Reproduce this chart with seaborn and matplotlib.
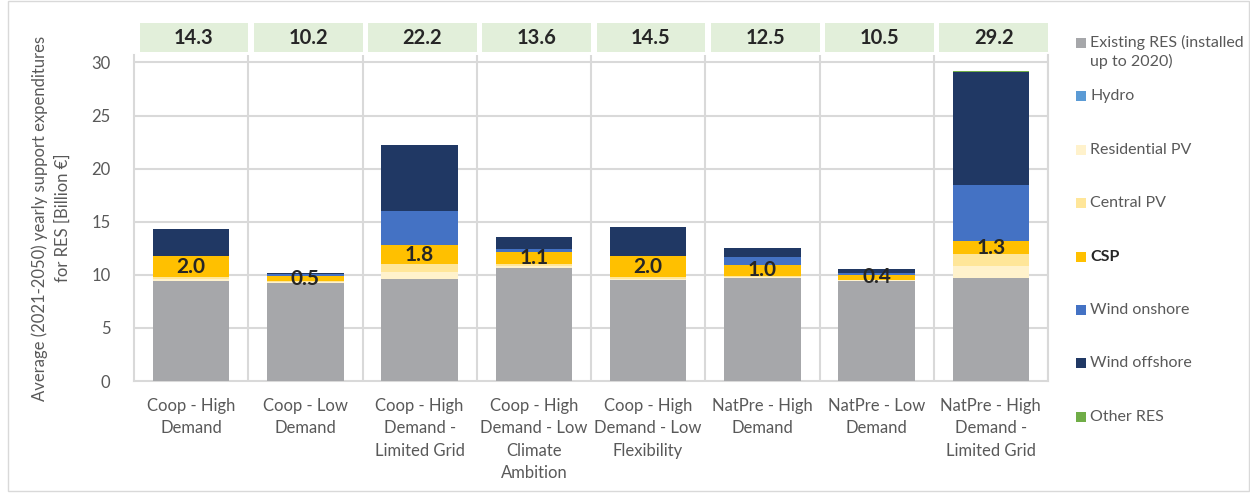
import numpy as np
import pandas as pd
import matplotlib
matplotlib.use("Agg")
import matplotlib.pyplot as plt
import matplotlib.transforms as mtransforms
from matplotlib.patches import Rectangle
import seaborn as sns

scenarios = [
    "Coop - High\nDemand",
    "Coop - Low\nDemand",
    "Coop - High\nDemand -\nLimited Grid",
    "Coop - High\nDemand - Low\nClimate\nAmbition",
    "Coop - High\nDemand - Low\nFlexibility",
    "NatPre - High\nDemand",
    "NatPre - Low\nDemand",
    "NatPre - High\nDemand -\nLimited Grid",
]
existing = [9.45, 9.26, 9.57, 10.6, 9.48, 9.73, 9.4, 9.66]
hydro = [0.0, 0.0, 0.0, 0.0, 0.0, 0.0, 0.0, 0.0]
residential_pv = [0.15, 0.06, 0.72, 0.22, 0.14, 0.1, 0.07, 1.16]
central_pv = [0.15, 0.06, 0.69, 0.22, 0.14, 0.1, 0.08, 1.10]
csp = [2.0, 0.5, 1.8, 1.1, 2.0, 1.04, 0.4, 1.3]
wind_onshore = [0.0, 0.19, 3.2, 0.28, 0.0, 0.75, 0.25, 5.24]
wind_offshore = [2.55, 0.1, 6.2, 1.15, 2.7, 0.78, 0.35, 10.67]
other_res = [0.0, 0.0, 0.0, 0.0, 0.0, 0.0, 0.0, 0.05]
totals = [14.3, 10.2, 22.2, 13.6, 14.5, 12.5, 10.5, 29.2]

layers = [
    ("Existing RES (installed\nup to 2020)", existing, "#A6A7AA"),
    ("Hydro", hydro, "#5B9BD5"),
    ("Residential PV", residential_pv, "#FFF2CC"),
    ("Central PV", central_pv, "#FFE699"),
    ("CSP", csp, "#FFC000"),
    ("Wind onshore", wind_onshore, "#4472C4"),
    ("Wind offshore", wind_offshore, "#203864"),
    ("Other RES", other_res, "#70AD47"),
]

sns.set_style("white")
plt.rcParams["font.family"] = ["Lato", "DejaVu Sans"]

W, H = 1250, 493
fig = plt.figure(figsize=(W / 100, H / 100), dpi=100)
ax = fig.add_axes([134 / W, 1 - 381 / H, 914 / W, 326 / H])

grid_c = "#D9D9D9"
txt_c = "#595959"

bottom = np.zeros(len(scenarios))
csp_mid = None
for name, vals, col in layers:
    df = pd.DataFrame({"scenario": scenarios, "value": vals})
    sns.barplot(data=df, x="scenario", y="value", order=scenarios, color=col,
                saturation=1, width=0.67, errorbar=None, bottom=bottom,
                linewidth=0, ax=ax, zorder=3)
    if name == "CSP":
        csp_mid = bottom + np.array(vals) / 2
    bottom = bottom + np.array(vals)

# CSP labels
for i, v in enumerate(csp):
    ax.text(i, csp_mid[i], f"{v:.1f}", ha="center", va="center",
            fontsize=15, fontweight="bold", color="#262626", zorder=5)

ax.set_xlim(-0.5, len(scenarios) - 0.5)
ax.set_ylim(0, 30.7)
ax.set_yticks([0, 5, 10, 15, 20, 25, 30])
for yv in [5, 10, 15, 20, 25, 30]:
    ax.axhline(yv, color=grid_c, lw=1.5, zorder=1)
for xv in np.arange(0.5, len(scenarios), 1):
    ax.axvline(xv, color=grid_c, lw=1.5, zorder=1)

ax.spines["top"].set_visible(False)
for s in ["left", "bottom", "right"]:
    ax.spines[s].set_color(grid_c)
    ax.spines[s].set_linewidth(1.5)

ax.set_xlabel("")
ax.set_ylabel("Average (2021-2050) yearly support expenditures\nfor RES [Billion \u20ac]",
              fontsize=12, color=txt_c, labelpad=15, linespacing=1.45)
ax.tick_params(axis="both", length=0, labelsize=12, colors=txt_c)
ax.tick_params(axis="y", pad=17)
ax.tick_params(axis="x", pad=12)
ax.set_xticks(range(len(scenarios)))
ax.set_xticklabels(scenarios, va="top", fontsize=12)
for lab in ax.get_xticklabels():
    lab.set_linespacing(1.5)

# total boxes above the plot
trans = mtransforms.blended_transform_factory(ax.transData, fig.transFigure)
for i, t in enumerate(totals):
    ax.add_patch(Rectangle((i - 0.45, 1 - 52 / H), 0.95, 29 / H, transform=trans,
                           facecolor="#E2EFDA", edgecolor="none", clip_on=False))
    ax.text(i + 0.025, 1 - 37.5 / H, f"{t:.1f}", transform=trans, ha="center",
            va="center", fontsize=14.5, fontweight="bold", color="#262626")

# legend
ys = [43, 96, 150, 203, 257, 310, 363, 417]
for (name, vals, col), yp in zip(layers, ys):
    fig.patches.append(Rectangle((1076 / W, 1 - (yp + 5) / H), 10 / W, 10 / H,
                                 transform=fig.transFigure, facecolor=col,
                                 edgecolor="none"))
    bold = name == "CSP"
    if "\n" in name:
        fig.text(1090 / W, 1 - (yp - 8) / H, name, ha="left", va="top",
                 fontsize=11.5, color=txt_c, linespacing=1.3,
                 transform=fig.transFigure)
    else:
        fig.text(1090 / W, 1 - yp / H, name, ha="left", va="center",
                 fontsize=11.5, color="#262626" if bold else txt_c,
                 fontweight="bold" if bold else "normal",
                 transform=fig.transFigure)

# chart area border
fig.patches.append(Rectangle((8 / W, 2 / H), 1 - 9 / W, 1 - 3 / H,
                             transform=fig.transFigure, facecolor="none",
                             edgecolor=grid_c, lw=1))

fig.savefig("out.png", dpi=100)
plt.close(fig)
